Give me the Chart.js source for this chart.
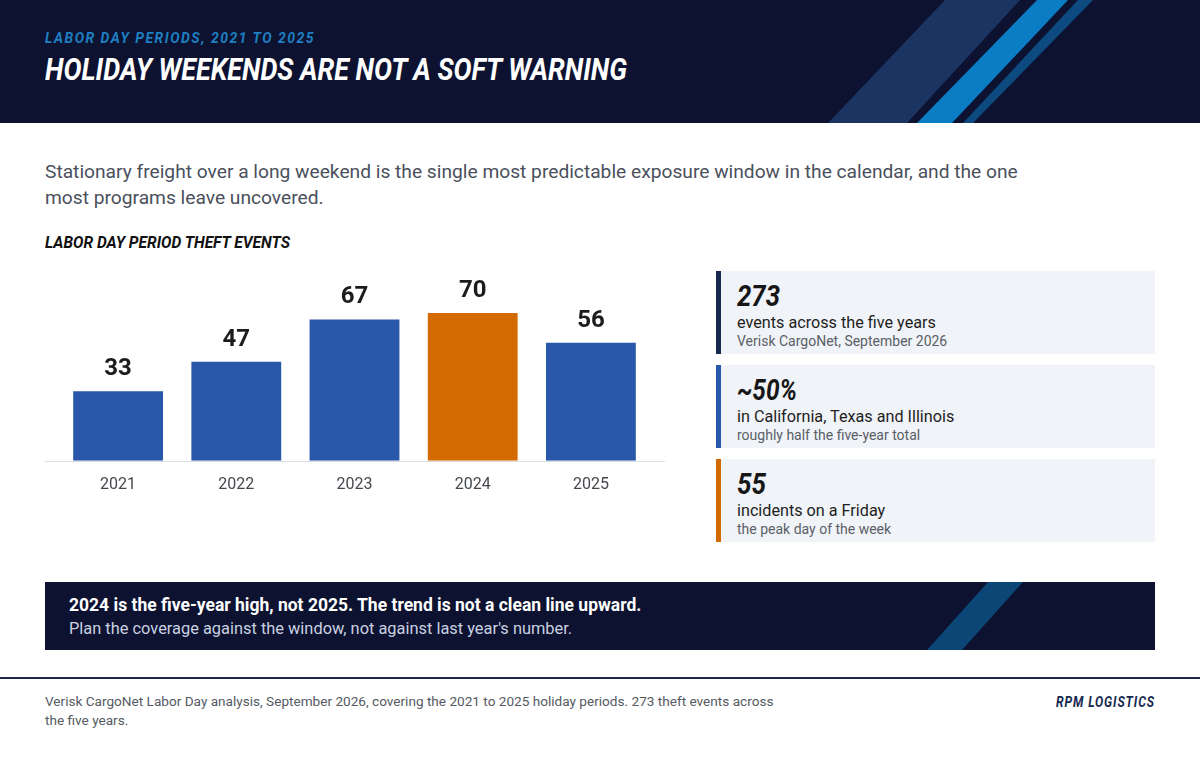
<!DOCTYPE html>
<html>
<head>
<meta charset="utf-8">
<script src="https://cdn.jsdelivr.net/npm/chart.js@4"></script>
<style>
  html, body { margin: 0; padding: 0; }
  body { width: 1200px; height: 758px; position: relative; background: #fff; font-family: Roboto, sans-serif; overflow: hidden; }
  .abs { position: absolute; }
  .fit { display: inline-block; white-space: nowrap; transform-origin: left center; }
  .cond { font-weight: 700; font-style: italic; }
  .header { left: 0; top: 0; width: 1200px; height: 123px; background: #0c1230; overflow: hidden; }
  .sub { left: 45px; top: 31px; font-size: 14px; line-height: 1; color: #1e7fc2; letter-spacing: 1.5px; }
  .title { left: 45px; top: 53px; font-size: 32px; line-height: 1; color: #fff; }
  .intro { left: 45px; top: 159px; width: 1050px; font-size: 19.2px; line-height: 26px; color: #4a505c; }
  .sect { left: 45px; top: 234px; font-size: 17px; line-height: 1; color: #111; }
  .chartbox { left: 45px; top: 252px; width: 620px; height: 258px; }
  .card { left: 716px; width: 434px; height: 83px; background: #f0f3f7; border-left: 5px solid #15294f; box-sizing: content-box; }
  .card .big { position: absolute; left: 16px; top: 10px; font-size: 30px; line-height: 1; color: #161616; }
  .card .l2 { position: absolute; left: 16px; top: 40px; font-size: 16.2px; line-height: 23px; color: #1e1e1e; white-space: nowrap; }
  .card .l3 { position: absolute; left: 16px; top: 62px; font-size: 14px; line-height: 16px; color: #5a5f68; white-space: nowrap; }
  .banner { left: 45px; top: 582px; width: 1110px; height: 68px; background: #0c1230; overflow: hidden; }
  .banner .b1 { position: absolute; left: 24px; top: 13px; font-size: 17.5px; font-weight: 700; line-height: 20px; color: #fff; white-space: nowrap; }
  .banner .b2 { position: absolute; left: 24px; top: 37px; font-size: 16.4px; line-height: 20px; color: #c9d1e0; white-space: nowrap; }
  .rule { left: 0; top: 677px; width: 1200px; height: 2px; background: #1b2a4a; }
  .foot { left: 45px; top: 692px; font-size: 13.6px; line-height: 19px; color: #555a63; }
  .brand { left: 1056px; top: 695px; font-size: 14px; line-height: 1; color: #15294f; letter-spacing: 1px; }
</style>
</head>
<body>

<div class="abs header">
  <svg width="1200" height="123" style="position:absolute;left:0;top:0">
    <polygon points="828,123 907,123 1020,0 945,0" fill="#1b3461"/>
    <polygon points="917,123 952,123 1068,0 1037,0" fill="#0b7dc4"/>
    <polygon points="963,123 973,123 1093,0 1078,0" fill="#0c4a80"/>
  </svg>
  <div class="abs sub"><span class="fit cond" data-w="270">LABOR DAY PERIODS, 2021 TO 2025</span></div>
  <div class="abs title"><span class="fit cond" data-w="582">HOLIDAY WEEKENDS ARE NOT A SOFT WARNING</span></div>
</div>

<div class="abs intro">Stationary freight over a long weekend is the single most predictable exposure window in the calendar, and the one<br>most programs leave uncovered.</div>

<div class="abs sect"><span class="fit cond" data-w="245">LABOR DAY PERIOD THEFT EVENTS</span></div>

<div class="abs chartbox"><canvas id="theftChart"></canvas></div>

<div class="abs card" style="top:271px;border-left-color:#15294f">
  <div class="big"><span class="fit cond" data-w="43">273</span></div>
  <div class="l2">events across the five years</div>
  <div class="l3">Verisk CargoNet, September 2026</div>
</div>
<div class="abs card" style="top:365px;border-left-color:#2957a9">
  <div class="big"><span class="fit cond" data-w="60">~50%</span></div>
  <div class="l2">in California, Texas and Illinois</div>
  <div class="l3">roughly half the five-year total</div>
</div>
<div class="abs card" style="top:459px;border-left-color:#d46b02">
  <div class="big"><span class="fit cond" data-w="29">55</span></div>
  <div class="l2">incidents on a Friday</div>
  <div class="l3">the peak day of the week</div>
</div>

<div class="abs banner">
  <svg width="1110" height="68" style="position:absolute;left:0;top:0">
    <polygon points="882,68 917,68 978,0 943,0" fill="#0b4677"/>
  </svg>
  <div class="b1">2024 is the five-year high, not 2025. The trend is not a clean line upward.</div>
  <div class="b2">Plan the coverage against the window, not against last year's number.</div>
</div>

<div class="abs rule"></div>
<div class="abs foot">Verisk CargoNet Labor Day analysis, September 2026, covering the 2021 to 2025 holiday periods. 273 theft events across<br>the five years.</div>
<div class="abs brand"><span class="fit cond" data-w="99">RPM LOGISTICS</span></div>

<script>
// data
const years = ['2021', '2022', '2023', '2024', '2025'];
const theftEvents = [33, 47, 67, 70, 56];
const highlightYear = '2024';

const blue = '#2957a9';
const orange = '#d46b02';

// squeeze the heading spans to the condensed widths of the original
function fitText() {
    document.querySelectorAll('.fit').forEach(el => {
        el.style.transform = 'none';
        const w = el.getBoundingClientRect().width;
        const s = parseFloat(el.dataset.w) / w;
        el.style.transform = 'scaleX(' + s + ')';
    });
}
fitText();
if (document.fonts) document.fonts.ready.then(fitText);

// value labels above bars + baseline across the full width
const barLabels = {
    id: 'barLabels',
    afterDatasetsDraw(chart) {
        const ctx = chart.ctx;
        const meta = chart.getDatasetMeta(0);
        const y0 = Math.round(chart.scales.y.getPixelForValue(0)) + 0.5;
        ctx.save();
        ctx.strokeStyle = '#d9dde4';
        ctx.lineWidth = 1;
        ctx.beginPath();
        ctx.moveTo(0, y0);
        ctx.lineTo(chart.width, y0);
        ctx.stroke();

        ctx.fillStyle = '#1c1c1c';
        ctx.font = 'bold 24px Roboto';
        ctx.textAlign = 'center';
        ctx.textBaseline = 'middle';
        meta.data.forEach((bar, i) => {
            ctx.fillText(String(theftEvents[i]), bar.x, bar.y - 22);
        });
        ctx.restore();
    }
};

Chart.defaults.font.family = 'Roboto';

const c = document.getElementById('theftChart');
new Chart(c, {
    type: 'bar',
    data: {
        labels: years,
        datasets: [{
            label: 'Theft events',
            data: theftEvents,
            backgroundColor: years.map(y => y === highlightYear ? orange : blue),
            borderWidth: 0,
            barPercentage: 0.76,
            categoryPercentage: 1
        }]
    },
    options: {
        responsive: true,
        maintainAspectRatio: false,
        animation: false,
        layout: {
            padding: { top: 40, left: 14, right: 15, bottom: 0 }
        },
        scales: {
            x: {
                grid: { display: false, drawTicks: false },
                border: { display: false },
                ticks: {
                    padding: 15,
                    color: '#45494f',
                    font: { size: 16 }
                }
            },
            y: {
                display: false,
                min: 0,
                max: 80
            }
        },
        plugins: {
            legend: { display: false },
            tooltip: { enabled: false }
        }
    },
    plugins: [barLabels]
});
</script>
</body>
</html>
